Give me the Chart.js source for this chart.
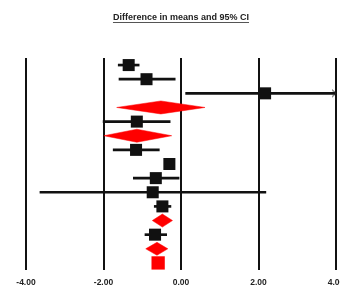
<!DOCTYPE html>
<html>
<head>
<meta charset="utf-8">
<script src="https://cdn.jsdelivr.net/npm/chart.js@4.4.1/dist/chart.umd.min.js"></script>
<style>
html,body{margin:0;padding:0;background:#fff;}
canvas{display:block;}
</style>
</head>
<body>
<canvas id="c" width="340" height="286"></canvas>
<script>
// ---- data ----
const titleText = "Difference in means and 95% CI";
const xTicks = [-4, -2, 0, 2, 4];
const xTickLabels = ["-4.00", "-2.00", "0.00", "2.00", "4.00"];

const studyRows = [1, 2, 3, 5, 7, 8, 9, 10, 11, 13];
const studyMean = [-1.35, -0.89, 2.17, -1.14, -1.16, -0.30, -0.65, -0.73, -0.48, -0.67];
const studyLo   = [-1.62, -1.60, 0.12, -2.01, -1.75, -0.42, -1.23, -3.64, -0.69, -0.93];
const studyHi   = [-1.08, -0.15, 4.40, -0.28, -0.56, -0.18, -0.05, 2.19, -0.26, -0.37];

const pooledRows = [4, 6, 12, 14];
const pooledMean = [-0.52, -1.14, -0.48, -0.62];
const pooledLo   = [-1.66, -1.99, -0.74, -0.91];
const pooledHi   = [0.62, -0.24, -0.22, -0.34];

const overallRow = [15];
const overallMean = [-0.59];

// ---- chart ----
const X_MIN = -4, X_MAX = 4, N_ROWS = 15;
const DIAMOND_HALF = 0.46; // half-height of diamonds in row units (style)
const fontFam = "'Liberation Sans', Arial, sans-serif";
const TITLE_SIZE = 9, TITLE_PAD_TOP = 12.3, TITLE_LH = 1.2;

const datasets = [];

// CI lines as floating bars
datasets.push({
  type: 'bar',
  indexAxis: 'y',
  data: studyRows.map((r, i) => ({ y: r, x: [Math.max(studyLo[i], X_MIN), Math.min(studyHi[i], X_MAX)] })),
  backgroundColor: '#111',
  borderWidth: 0,
  barThickness: 2,
  order: 3
});

// arrow heads for CIs that run past the axis
const arrowCanvas = document.createElement('canvas');
arrowCanvas.width = 10; arrowCanvas.height = 10;
(function () {
  const g = arrowCanvas.getContext('2d');
  g.strokeStyle = '#222'; g.lineWidth = 1;
  g.beginPath(); g.moveTo(1, 1.5); g.lineTo(5, 5); g.lineTo(1, 8.5); g.stroke();
})();
const arrowPts = [];
studyRows.forEach((r, i) => { if (studyHi[i] > X_MAX) arrowPts.push({ x: X_MAX, y: r }); });
datasets.push({
  type: 'scatter',
  data: arrowPts,
  pointStyle: arrowCanvas,
  pointRadius: 5,
  order: 2
});

// pooled diamonds
pooledRows.forEach((r, i) => {
  datasets.push({
    type: 'scatter',
    showLine: true,
    data: [
      { x: pooledLo[i], y: r },
      { x: pooledMean[i], y: r - DIAMOND_HALF },
      { x: pooledHi[i], y: r },
      { x: pooledMean[i], y: r + DIAMOND_HALF },
      { x: pooledLo[i], y: r }
    ],
    borderColor: '#ff0000',
    borderWidth: 0.5,
    backgroundColor: '#ff0000',
    fill: 'shape',
    tension: 0,
    pointRadius: 0,
    order: 1
  });
});

// study squares
datasets.push({
  type: 'scatter',
  data: studyRows.map((r, i) => ({ x: studyMean[i], y: r })),
  pointStyle: 'rect',
  pointRadius: 8.5,
  backgroundColor: '#111',
  borderWidth: 0,
  order: 0
});

// overall square
datasets.push({
  type: 'scatter',
  data: overallRow.map((r, i) => ({ x: overallMean[i], y: r })),
  pointStyle: 'rect',
  pointRadius: 9.4,
  backgroundColor: '#ff0000',
  borderWidth: 0,
  order: 0
});

const decorations = {
  id: 'decorations',
  afterDraw(chart) {
    const ctx = chart.ctx;
    const ca = chart.chartArea;
    ctx.save();
    // title underline
    const tb = chart.titleBlock;
    ctx.font = "bold " + TITLE_SIZE + "px " + fontFam;
    const w = ctx.measureText(titleText).width;
    const cx = (ca.left + ca.right) / 2;
    const cy = tb.top + TITLE_PAD_TOP + TITLE_SIZE * TITLE_LH / 2 + 4.6;
    ctx.strokeStyle = '#555';
    ctx.lineWidth = 1;
    ctx.beginPath();
    ctx.moveTo(cx - w / 2, Math.floor(cy) + 0.5);
    ctx.lineTo(cx + w / 2, Math.floor(cy) + 0.5);
    ctx.stroke();
    // x tick labels, placed by the x scale
    const xs = chart.scales.x;
    ctx.font = "bold 8.5px " + fontFam;
    ctx.fillStyle = '#222';
    ctx.textAlign = 'center';
    ctx.textBaseline = 'top';
    xTicks.forEach((v, i) => {
      ctx.fillText(xTickLabels[i], xs.getPixelForValue(v), ca.bottom + 8.5);
    });
    ctx.restore();
  }
};

new Chart(document.getElementById('c'), {
  data: { datasets },
  options: {
    responsive: false,
    animation: false,
    layout: { autoPadding: false, padding: { left: 26, right: 4, top: 0, bottom: 16 } },
    plugins: {
      legend: { display: false },
      tooltip: { enabled: false },
      title: {
        display: true,
        text: titleText,
        color: '#222',
        font: { size: TITLE_SIZE, weight: 'bold', family: fontFam, lineHeight: TITLE_LH },
        padding: { top: TITLE_PAD_TOP, bottom: 58 - TITLE_PAD_TOP - TITLE_SIZE * TITLE_LH }
      }
    },
    scales: {
      x: {
        type: 'linear',
        min: X_MIN, max: X_MAX,
        offset: false,
        afterBuildTicks(scale) { scale.ticks = xTicks.map(v => ({ value: v })); },
        grid: { color: '#111', lineWidth: 2, drawTicks: false, offset: false },
        border: { display: false },
        ticks: { display: false }
      },
      y: {
        type: 'linear',
        min: 0.5, max: N_ROWS + 0.5,
        reverse: true,
        offset: false,
        grid: { offset: false },
        display: false
      }
    }
  },
  plugins: [decorations]
});
</script>
</body>
</html>
